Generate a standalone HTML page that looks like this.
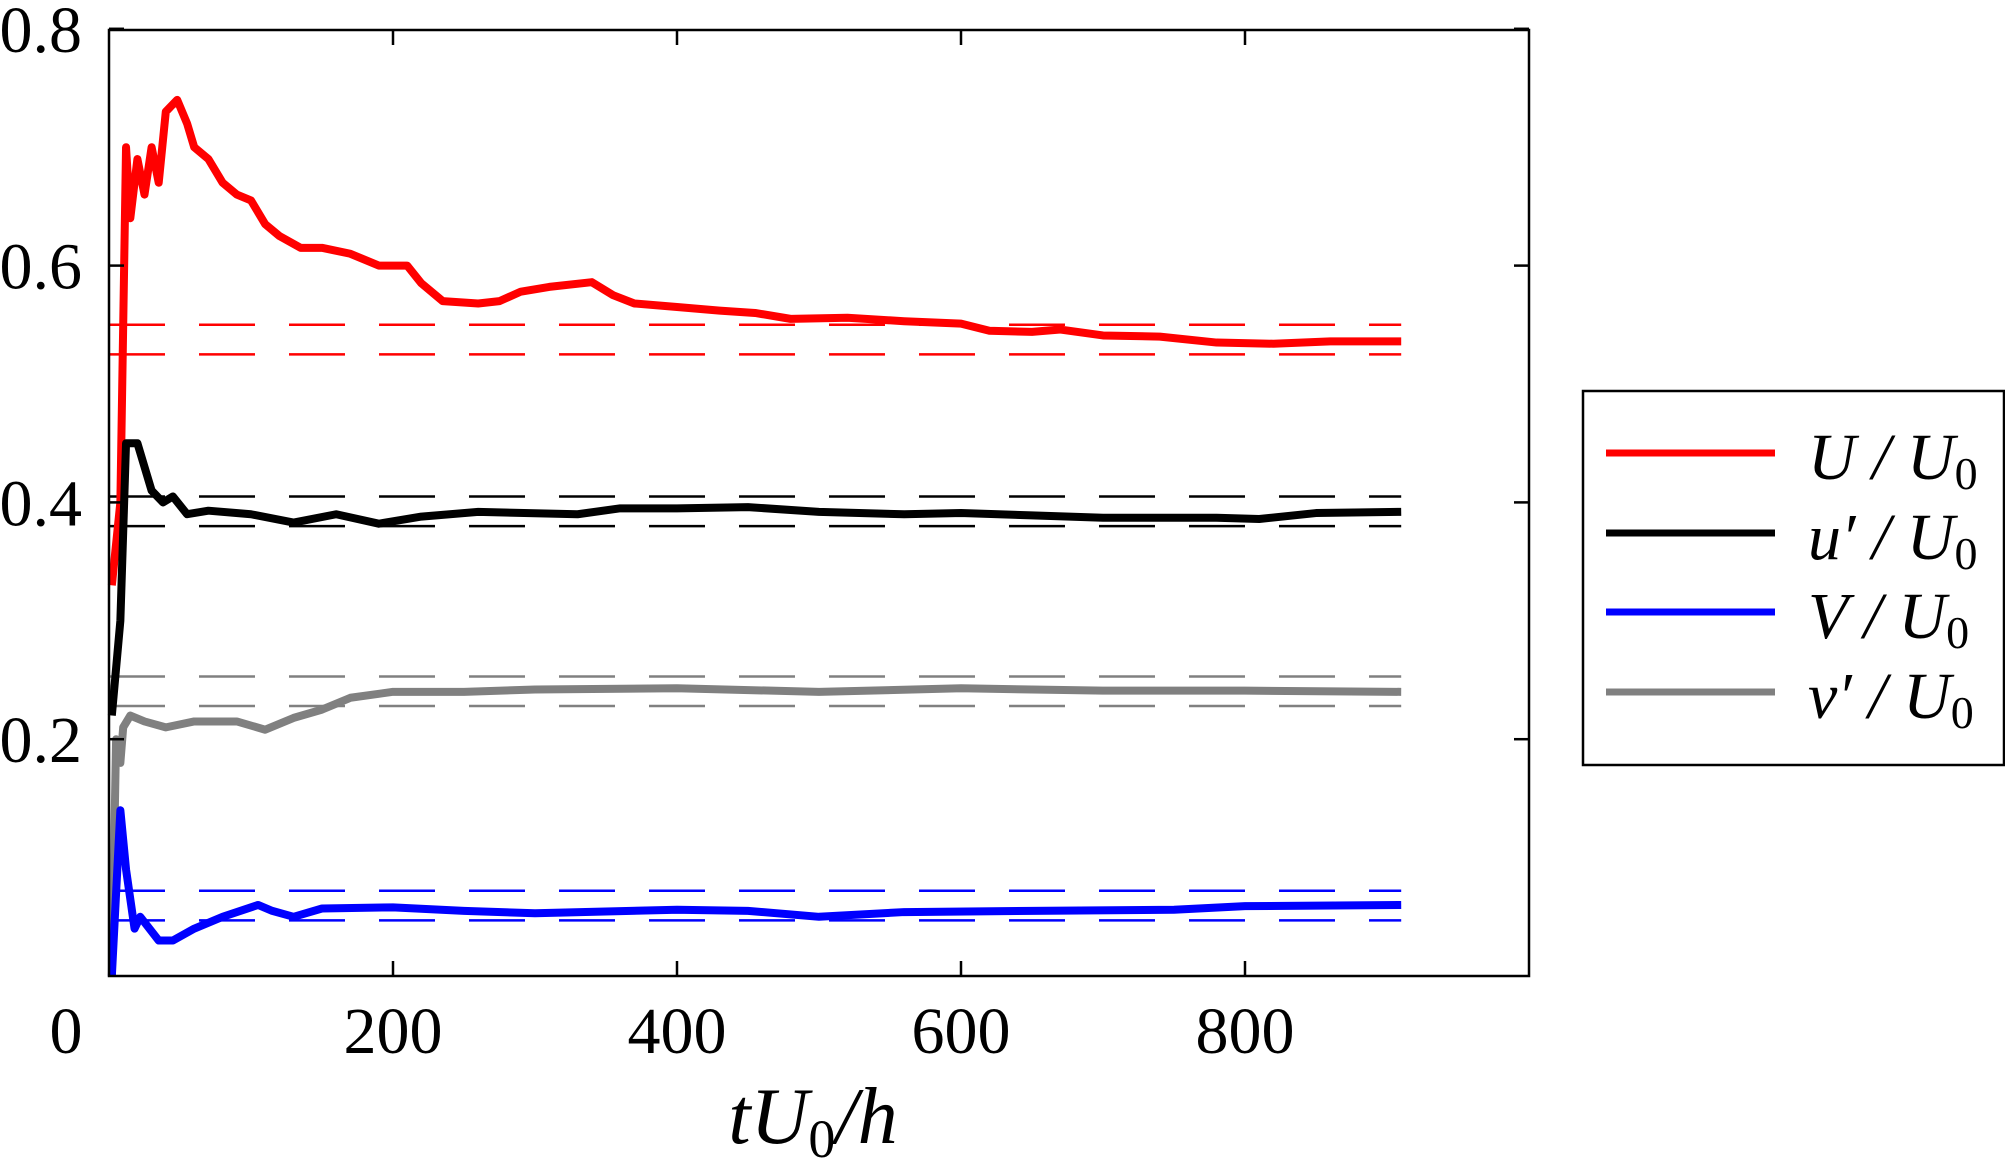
<!DOCTYPE html>
<html><head><meta charset="utf-8"><style>
html,body{margin:0;padding:0;background:#fff;width:2005px;height:1172px;overflow:hidden}
svg{display:block}
text{font-family:"Liberation Serif",serif;fill:#000}
</style></head><body>
<svg id="chart" width="2005" height="1172" viewBox="0 0 2005 1172" xmlns="http://www.w3.org/2000/svg">
<g id="refs"></g>
<g id="series"></g>
<rect x="109" y="30" width="1420" height="946" fill="none" stroke="#000" stroke-width="2.5"/>
<g id="ticks"></g>
<text x="813" y="1143" text-anchor="middle" font-size="80" font-style="italic">tU<tspan font-size="54" font-style="normal" dy="14">0</tspan><tspan dy="-14">/h</tspan></text>
<g>
<rect x="1583" y="391" width="421" height="374" fill="#fff" stroke="#000" stroke-width="2.5"/>
<g><line x1="1606" x2="1775" y1="453" y2="453" stroke="#ff0000" stroke-width="7"/><text x="1808" y="479" font-size="66" font-style="italic">U / U<tspan font-size="46" font-style="normal" dy="10">0</tspan></text></g>
<g><line x1="1606" x2="1775" y1="533" y2="533" stroke="#000" stroke-width="7"/><text x="1808" y="559" font-size="66" font-style="italic">u′ / U<tspan font-size="46" font-style="normal" dy="10">0</tspan></text></g>
<g><line x1="1606" x2="1775" y1="612" y2="612" stroke="#0000ff" stroke-width="7"/><text x="1808" y="638" font-size="66" font-style="italic">V / U<tspan font-size="46" font-style="normal" dy="10">0</tspan></text></g>
<g><line x1="1606" x2="1775" y1="692" y2="692" stroke="#808080" stroke-width="7"/><text x="1808" y="718" font-size="66" font-style="italic">v′ / U<tspan font-size="46" font-style="normal" dy="10">0</tspan></text></g>
</g>
</svg>
<script>
const xTicks=[0,200,400,600,800];
const yTicks=[0.2,0.4,0.6,0.8];
const yTickLabels=["0.2","0.4","0.6","0.8"];
const tU=[2,8,12,15,20,25,30,35,40,48,55,60,70,80,90,100,110,120,135,150,170,190,210,220,235,260,275,290,310,340,355,370,400,430,455,480,520,560,600,620,650,670,700,740,780,820,860,910];
const vU=[0.33,0.4,0.70,0.64,0.69,0.66,0.70,0.67,0.73,0.74,0.72,0.70,0.69,0.67,0.66,0.655,0.635,0.625,0.615,0.615,0.61,0.60,0.60,0.585,0.57,0.568,0.57,0.578,0.582,0.586,0.575,0.568,0.565,0.562,0.56,0.555,0.556,0.553,0.551,0.545,0.544,0.546,0.541,0.54,0.535,0.534,0.536,0.536];
const tu=[2,8,12,20,25,30,38,45,55,70,100,130,160,190,220,260,330,360,400,450,500,560,600,650,700,780,810,850,910];
const vu=[0.22,0.3,0.45,0.45,0.43,0.41,0.40,0.405,0.39,0.393,0.39,0.383,0.39,0.382,0.388,0.392,0.39,0.395,0.395,0.396,0.392,0.39,0.391,0.389,0.387,0.387,0.386,0.391,0.392];
const tv=[2,5,8,10,15,25,40,60,90,110,130,150,170,200,250,300,400,500,600,700,800,910];
const vv=[0.0,0.2,0.18,0.21,0.22,0.215,0.21,0.215,0.215,0.208,0.218,0.225,0.235,0.24,0.24,0.242,0.243,0.24,0.243,0.241,0.241,0.24];
const tV=[2,8,12,18,22,35,45,60,80,105,115,130,150,200,250,300,400,450,500,560,650,750,800,910];
const vV=[0.0,0.14,0.09,0.04,0.05,0.03,0.03,0.04,0.05,0.06,0.055,0.05,0.057,0.058,0.055,0.053,0.056,0.055,0.05,0.054,0.055,0.056,0.059,0.06];
const bandU=[0.55,0.525], bandu=[0.405,0.38], bandv=[0.253,0.228], bandV=[0.072,0.047];
const bandEnd=910;
const X=t=>109+t*1.42, Y=v=>976-v*1184;
const NS="http://www.w3.org/2000/svg";
function mk(tag,attrs,parent){const e=document.createElementNS(NS,tag);for(const k in attrs)e.setAttribute(k,attrs[k]);parent.appendChild(e);return e;}
const refs=document.getElementById('refs'),series=document.getElementById('series'),ticks=document.getElementById('ticks');
[[bandU,'#ff0000','U'],[bandu,'#000000','u-prime'],[bandv,'#808080','v-prime'],[bandV,'#0000ff','V']].forEach(([b,c,n])=>{b.forEach((v,i)=>{
 const l=mk('line',{x1:X(0),x2:X(bandEnd),y1:Y(v),y2:Y(v),stroke:c,'stroke-width':2.5,'stroke-dasharray':'56 34'},refs);
 
 
});});
[[tv,vv,'#808080','v-prime'],[tV,vV,'#0000ff','V'],[tU,vU,'#ff0000','U'],[tu,vu,'#000000','u-prime']].forEach(([t,v,c,n])=>{
 const p=mk('polyline',{points:t.map((x,i)=>X(x)+','+Y(v[i])).join(' '),fill:'none',stroke:c,'stroke-width':8,'stroke-linejoin':'round'},series);
 
 
});
xTicks.forEach(t=>{
 if(t>0){mk('line',{x1:X(t),x2:X(t),y1:976,y2:961,stroke:'#000','stroke-width':2.5},ticks);mk('line',{x1:X(t),x2:X(t),y1:30,y2:45,stroke:'#000','stroke-width':2.5},ticks);}
 const tx=mk('text',{x:t===0?66:X(t),y:1053,'text-anchor':'middle','font-size':66},ticks);tx.textContent=String(t);
 
 
});
yTicks.forEach((v,i)=>{
 mk('line',{x1:109,x2:124,y1:Y(v),y2:Y(v),stroke:'#000','stroke-width':2.5},ticks);
 mk('line',{x1:1514,x2:1529,y1:Y(v),y2:Y(v),stroke:'#000','stroke-width':2.5},ticks);
 const tx=mk('text',{x:82,y:Y(v)+23,'text-anchor':'end','font-size':66},ticks);tx.textContent=yTickLabels[i];
 
 
});
</script>
</body></html>
